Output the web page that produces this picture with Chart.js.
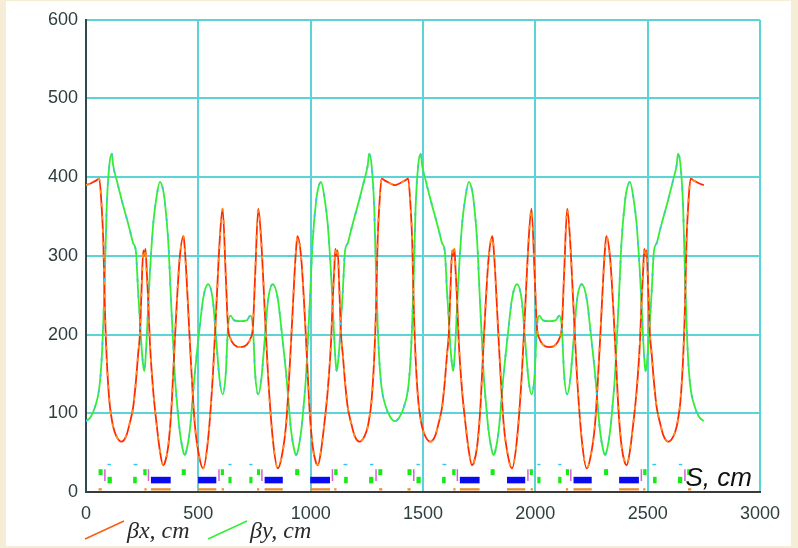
<!DOCTYPE html>
<html>
<head>
<meta charset="utf-8">
<title>Beta functions</title>
<script src="https://cdn.jsdelivr.net/npm/chart.js@4.4.1/dist/chart.umd.min.js"></script>
<style>
  html, body { margin: 0; padding: 0; background: #f6edd7; }
  #frame { position: absolute; left: 6px; top: 1px; width: 785px; height: 545px; background: #ffffff; }
  canvas { display: block; }
</style>
</head>
<body>
<div id="frame"><canvas id="betaChart"></canvas></div>
<script>
// longitudinal position along the ring, cm
const sPos = [
  0, 20, 40, 59, 70, 77, 84, 92, 104, 115, 121, 135, 158, 180, 195, 210, 222, 232, 240, 247, 255, 260, 265, 270, 277, 284, 299, 314, 329, 343, 351, 366, 380, 388, 395, 403, 417, 434, 440, 447, 462, 484, 506, 521, 543, 565, 580, 595, 608, 622, 632, 643, 660, 687.5,
  715, 732, 743, 753, 767, 780, 795, 810, 832, 854, 869, 891, 913, 928, 935, 941, 958, 972, 980, 987, 995, 1009, 1024, 1032, 1046, 1061, 1076, 1091, 1098, 1105, 1110, 1115, 1120, 1128, 1135, 1143, 1153, 1165, 1180, 1195, 1217, 1240, 1254, 1260, 1271, 1283, 1291, 1298, 1305, 1316, 1335, 1355, 1375,
  1395, 1415, 1434, 1445, 1452, 1459, 1467, 1479, 1490, 1496, 1510, 1533, 1555, 1570, 1585, 1597, 1607, 1615, 1622, 1630, 1635, 1640, 1645, 1652, 1659, 1674, 1689, 1704, 1718, 1726, 1741, 1755, 1763, 1770, 1778, 1792, 1809, 1815, 1822, 1837, 1859, 1881, 1896, 1918, 1940, 1955, 1970, 1983, 1997, 2007, 2018, 2035, 2062.5,
  2090, 2107, 2118, 2128, 2142, 2155, 2170, 2185, 2207, 2229, 2244, 2266, 2288, 2303, 2310, 2316, 2333, 2347, 2355, 2362, 2370, 2384, 2399, 2407, 2421, 2436, 2451, 2466, 2473, 2480, 2485, 2490, 2495, 2503, 2510, 2518, 2528, 2540, 2555, 2570, 2592, 2615, 2629, 2635, 2646, 2658, 2666, 2673, 2680, 2691, 2710, 2730, 2750
];

// horizontal beta, cm
const betaX = [
  390, 392, 395, 398, 361, 319, 234, 171, 116, 92, 83, 71, 64, 72, 88, 108, 140, 175, 201, 255, 307, 300, 309, 282, 243, 192, 129, 87, 52, 34, 37, 58, 105, 150, 190, 234, 297, 325, 308, 276, 192, 87, 42, 30, 66, 150, 234, 319, 360, 276, 210, 195, 187, 184,
  187, 195, 210, 276, 360, 319, 234, 150, 66, 30, 42, 87, 192, 276, 308, 325, 297, 234, 190, 150, 105, 58, 37, 34, 52, 87, 129, 192, 243, 282, 309, 300, 307, 255, 201, 175, 140, 108, 88, 72, 64, 71, 83, 92, 116, 171, 234, 319, 361, 398, 395, 392, 390,
  392, 395, 398, 361, 319, 234, 171, 116, 92, 83, 71, 64, 72, 88, 108, 140, 175, 201, 255, 307, 300, 309, 282, 243, 192, 129, 87, 52, 34, 37, 58, 105, 150, 190, 234, 297, 325, 308, 276, 192, 87, 42, 30, 66, 150, 234, 319, 360, 276, 210, 195, 187, 184,
  187, 195, 210, 276, 360, 319, 234, 150, 66, 30, 42, 87, 192, 276, 308, 325, 297, 234, 190, 150, 105, 58, 37, 34, 52, 87, 129, 192, 243, 282, 309, 300, 307, 255, 201, 175, 140, 108, 88, 72, 64, 71, 83, 92, 116, 171, 234, 319, 361, 398, 395, 392, 390
];

// vertical beta, cm
const betaY = [
  90, 95, 108, 132, 170, 215, 277, 361, 416, 430, 415, 398, 372, 349, 333, 316, 306, 255, 218, 185, 160, 154, 170, 195, 237, 276, 340, 375, 394, 384, 369, 319, 234, 190, 150, 120, 78, 50, 47, 52, 78, 150, 209, 245, 264, 243, 192, 142, 124, 150, 209, 224, 218, 217,
  218, 224, 209, 150, 124, 142, 192, 243, 264, 245, 209, 150, 78, 52, 47, 50, 78, 120, 150, 190, 234, 319, 369, 384, 394, 375, 340, 276, 237, 195, 170, 154, 160, 185, 218, 255, 306, 316, 333, 349, 372, 398, 415, 430, 416, 361, 277, 215, 170, 132, 108, 95, 90,
  95, 108, 132, 170, 215, 277, 361, 416, 430, 415, 398, 372, 349, 333, 316, 306, 255, 218, 185, 160, 154, 170, 195, 237, 276, 340, 375, 394, 384, 369, 319, 234, 190, 150, 120, 78, 50, 47, 52, 78, 150, 209, 245, 264, 243, 192, 142, 124, 150, 209, 224, 218, 217,
  218, 224, 209, 150, 124, 142, 192, 243, 264, 245, 209, 150, 78, 52, 47, 50, 78, 120, 150, 190, 234, 319, 369, 384, 394, 375, 340, 276, 237, 195, 170, 154, 160, 185, 218, 255, 306, 316, 333, 349, 372, 398, 415, 430, 416, 361, 277, 215, 170, 132, 108, 95, 90
];

const xTicks = [0, 500, 1000, 1500, 2000, 2500, 3000];
const yTicks = [0, 100, 200, 300, 400, 500, 600];

// lattice elements along S (start, end), cm
const quadsUpper = [[56, 74], [255, 270], [426, 444], [600, 614], [761, 775], [931, 949], [1105, 1120], [1301, 1319],
  [1431, 1449], [1630, 1645], [1801, 1819], [1975, 1989], [2136, 2150], [2306, 2324], [2480, 2495], [2676, 2694]];
const quadsLower = [[96, 115], [210, 226], [634, 648], [727, 741], [1149, 1165], [1260, 1279],
  [1471, 1490], [1585, 1601], [2009, 2023], [2102, 2116], [2524, 2540], [2635, 2654]];
const dipoles = [[289, 377], [499, 580], [795, 876], [998, 1086], [1664, 1752], [1874, 1955], [2170, 2251], [2373, 2461]];
const orangeBars = [[56, 70], [260, 270], [289, 377], [499, 580], [604, 614], [761, 771], [795, 876], [998, 1086], [1105, 1115], [1305, 1319],
  [1431, 1445], [1635, 1645], [1664, 1752], [1874, 1955], [1979, 1989], [2136, 2146], [2170, 2251], [2373, 2461], [2480, 2490], [2680, 2694]];
const pickups = [[96, 111], [212, 229], [634, 648], [727, 741], [1146, 1163], [1264, 1279],
  [1471, 1486], [1587, 1604], [2009, 2023], [2102, 2116], [2521, 2538], [2639, 2654]];
const correctors = [84, 278, 592, 783, 1097, 1291, 1459, 1653, 1967, 2158, 2472, 2666];

// drawing style for each element row (beta units used only as vertical placement)
const rowStyles = [
  { spans: quadsUpper, lo: 21.5, hi: 29, color: '#14ec14' },
  { spans: quadsLower, lo: 11, hi: 19.3, color: '#14ec14' },
  { spans: dipoles, lo: 11, hi: 19.3, color: '#0a0aee' },
  { spans: orangeBars, lo: 2, hi: 4.8, color: '#ee8a2a' },
  { spans: pickups, lo: 34, hi: 35.8, color: '#33c3ee' }
];

const latticeMarks = {
  id: 'latticeMarks',
  afterDatasetsDraw(chart) {
    const { ctx, scales: { x, y } } = chart;
    ctx.save();
    rowStyles.forEach(row => {
      ctx.fillStyle = row.color;
      row.spans.forEach(([a, b]) => {
        const x0 = x.getPixelForValue(a);
        const x1 = x.getPixelForValue(b);
        const y0 = y.getPixelForValue(row.hi);
        const y1 = y.getPixelForValue(row.lo);
        ctx.fillRect(x0, y0, x1 - x0, y1 - y0);
      });
    });
    ctx.strokeStyle = '#d860d8';
    ctx.lineWidth = 1.5;
    correctors.forEach(s => {
      const px = x.getPixelForValue(s);
      ctx.beginPath();
      ctx.moveTo(px, y.getPixelForValue(29));
      ctx.lineTo(px, y.getPixelForValue(14));
      ctx.stroke();
    });
    ctx.restore();
  }
};

const betaLegend = {
  id: 'betaLegend',
  afterDraw(chart) {
    const { ctx, chartArea } = chart;
    ctx.save();
    // axis name inside the plot
    ctx.font = 'italic 26px "Liberation Sans", Arial, sans-serif';
    ctx.fillStyle = '#111';
    ctx.textAlign = 'right';
    ctx.fillText('S, cm', chartArea.right - 8, 485);
    // legend entries with slanted line samples
    ctx.textAlign = 'left';
    ctx.font = 'italic 24px "Liberation Serif", "Times New Roman", serif';
    let left = 79;
    chart.data.datasets.filter(ds => !ds.overlay).forEach(ds => {
      ctx.strokeStyle = ds.legendColor;
      ctx.lineWidth = 1.5;
      ctx.beginPath();
      ctx.moveTo(left, 538);
      ctx.lineTo(left + 39, 520);
      ctx.stroke();
      ctx.fillStyle = '#2a2a2a';
      ctx.fillText(ds.label, left + 42, 537);
      left += 123;
    });
    ctx.restore();
  }
};

const xyPoints = vals => sPos.map((s, i) => ({ x: s, y: vals[i] }));

const gridColor = '#5cd3d6';
const ctx = document.getElementById('betaChart').getContext('2d');
new Chart(ctx, {
  type: 'line',
  data: {
    datasets: [{
      label: 'βx, cm',
      order: 2,
      data: xyPoints(betaX),
      borderColor: '#ff2a00',
      legendColor: '#ff5a10',
      borderWidth: 1.8,
      pointRadius: 0,
      cubicInterpolationMode: 'monotone'
    }, {
      label: 'βy, cm',
      order: 3,
      data: xyPoints(betaY),
      borderColor: '#33ee33',
      legendColor: '#33ee33',
      borderWidth: 1.8,
      pointRadius: 0,
      cubicInterpolationMode: 'monotone'
    }, {
      // the original plot shows short lighter dashes along each curve
      label: 'βx dashes',
      overlay: true,
      order: 0,
      data: xyPoints(betaX),
      borderColor: '#ff9020',
      borderWidth: 1.8,
      borderDash: [4, 9],
      pointRadius: 0,
      cubicInterpolationMode: 'monotone'
    }, {
      label: 'βy dashes',
      overlay: true,
      order: 1,
      data: xyPoints(betaY),
      borderColor: '#3ccad8',
      borderWidth: 1.8,
      borderDash: [3, 13],
      pointRadius: 0,
      cubicInterpolationMode: 'monotone'
    }]
  },
  options: {
    responsive: true,
    maintainAspectRatio: false,
    animation: false,
    events: [],
    layout: { padding: { left: 0, top: 16, right: 29.5, bottom: 0 } },
    plugins: {
      legend: { display: false },
      tooltip: { enabled: false }
    },
    scales: {
      x: {
        type: 'linear',
        min: 0,
        max: 3000,
        afterFit: scale => { scale.height = 54; },
        afterBuildTicks: scale => { scale.ticks = xTicks.map(v => ({ value: v })); },
        grid: { color: gridColor, lineWidth: 2, drawTicks: false },
        border: { color: '#3a3a3a', width: 2 },
        ticks: { padding: 11, color: '#2d3e3e', font: { size: 18 }, callback: v => String(v) }
      },
      y: {
        min: 0,
        max: 600,
        afterFit: scale => { scale.width = 80; },
        afterBuildTicks: scale => { scale.ticks = yTicks.map(v => ({ value: v })); },
        grid: { color: gridColor, lineWidth: 2, drawTicks: false },
        border: { color: '#2f4a4a', width: 2 },
        ticks: { padding: 8, color: '#2d3e3e', font: { size: 18 }, callback: v => String(v) }
      }
    }
  },
  plugins: [latticeMarks, betaLegend]
});
</script>
</body>
</html>
